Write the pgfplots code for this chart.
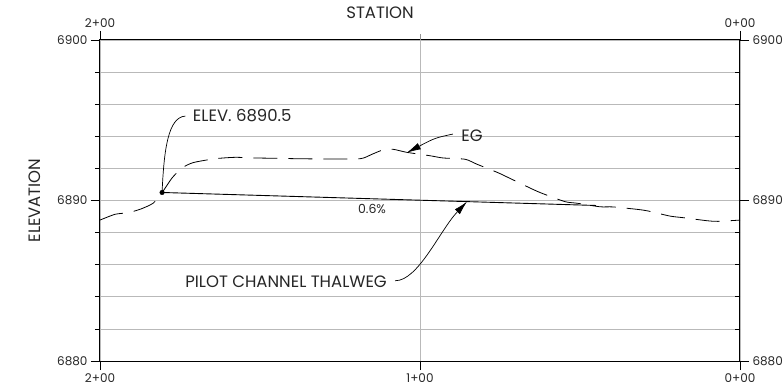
\documentclass[border=0pt]{standalone}
\usepackage{fontspec}
\setmainfont{Poppins}
\usepackage{pgfplots}
\usepackage{pgfplotstable}
\pgfplotsset{compat=1.18}
\usetikzlibrary{arrows.meta}

\pgfplotstableread{
s e
200 6888.78
195.3 6889.14
191.3 6889.24
187.5 6889.45
183.4 6889.83
180.6 6890.49
177.5 6891.40
174.4 6892.02
170.9 6892.36
164.1 6892.60
157.8 6892.69
151.6 6892.65
145.3 6892.63
137.5 6892.60
129.7 6892.59
118.8 6892.60
115.0 6892.88
111.6 6893.15
108.4 6893.19
104.1 6893.00
96.9 6892.79
92.8 6892.65
85.9 6892.57
82.2 6892.26
75.6 6891.73
71.9 6891.38
65.0 6890.72
61.9 6890.45
54.7 6889.93
50.9 6889.83
43.8 6889.61
39.7 6889.60
32.2 6889.45
28.8 6889.35
21.9 6889.03
17.8 6888.93
10.3 6888.74
6.9 6888.70
0 6888.78
}\egdata

\pgfplotstableread{
s e
180.6 6890.50
45.0 6889.69
}\thalweg

\definecolor{gridgray}{RGB}{185,185,185}
\newcommand{\lblfont}{\fontsize{16.5}{16.5}\selectfont}

\pgfplotsset{
  common/.style={
    width=640pt, height=321pt, scale only axis,
    xmin=0, xmax=200, x dir=reverse, ymin=6880, ymax=6900,
    axis line style={black, line width=1pt},
    tick style={black, line width=0.8pt},
    tick align=outside,
    tick label style={font=\fontsize{12}{12}\selectfont, text=black!85},
    /pgf/number format/assume math mode=true,
  }
}

\begin{document}
\begin{tikzpicture}
\begin{axis}[common,
  xtick={0,100,200}, xticklabels={0+00,1+00,2+00},
  xtick pos=bottom,
  ytick={6880,6890,6900}, yticklabels={6880,6890,6900},
  minor ytick={6882,6884,6886,6888,6892,6894,6896,6898},
  ytick pos=left,
  major tick length=9pt, minor tick length=5pt,
  grid=both,
  major grid style={gridgray, line width=0.8pt},
  minor grid style={gridgray, line width=0.8pt},
  clip=false,
]
\coordinate (sw) at (rel axis cs:0,0);
\coordinate (ne) at (rel axis cs:1,1);

\draw[gridgray!80!black, line width=0.8pt] (axis cs:100,6900) -- (axis cs:100,6900.35);

\addplot[black, line width=0.8pt, dash pattern=on 24pt off 11pt, smooth, tension=0.4] table[x=s, y=e] {\egdata};
\addplot[black, line width=0.9pt] table[x=s, y=e] {\thalweg};
\addplot[only marks, mark=*, mark size=2.3pt, black] coordinates {(180.6,6890.5)};

% annotations
\node[anchor=center, font=\lblfont, text=black!85] at (axis cs:112.5,6901.7) {STATION};
\node[anchor=center, rotate=90, font=\lblfont, text=black!85] at (axis cs:220.3,6890.0) {ELEVATION};

\node[anchor=west, font=\lblfont, text=black!85, inner sep=0pt] at (axis cs:171,6895.26) {ELEV. 6890.5};
\draw[black, line width=0.7pt] (axis cs:180.6,6890.5) .. controls (axis cs:180,6893.15) and (axis cs:178.75,6895.2) .. (axis cs:173.3,6895.26);

\node[anchor=center, font=\lblfont, text=black!85, inner sep=0pt] at (axis cs:83.75,6894.02) {EG};
\draw[black, line width=0.7pt, -{Latex[length=14pt,width=7pt]}] (axis cs:89.7,6894.14) .. controls (axis cs:95.3,6893.9) .. (axis cs:104.1,6892.98);

\node[anchor=center, font=\fontsize{12.5}{12.5}\selectfont, text=black!85, inner sep=0pt] at (axis cs:115,6889.47) {0.6\%};

\node[anchor=east, font=\lblfont, text=black!85, inner sep=0pt] at (axis cs:110.3,6884.92) {PILOT CHANNEL THALWEG};
\draw[black, line width=0.7pt, -{Latex[length=14pt,width=7pt]}] (axis cs:107.8,6885.0) .. controls (axis cs:100.6,6884.98) and (axis cs:93.75,6888.16) .. (axis cs:85.3,6889.93);
\end{axis}

\begin{axis}[common,
  axis line style={draw=none},
  xtick={0,200}, xticklabels={0+00,2+00},
  xtick pos=top, xticklabel pos=top,
  ytick={6880,6890,6900}, yticklabels={6880,6890,6900},
  ytick pos=right, yticklabel pos=right,
  major tick length=9pt,
  extra y ticks={6882,6884,6886,6888,6892,6894,6896,6898},
  extra y tick labels={},
  extra y tick style={tick align=inside, major tick length=5pt},
]
\end{axis}

\pgfresetboundingbox
\path[use as bounding box] ([shift={(-100pt,-28pt)}]sw) rectangle ([shift={(44pt,40pt)}]ne);
\end{tikzpicture}
\end{document}
